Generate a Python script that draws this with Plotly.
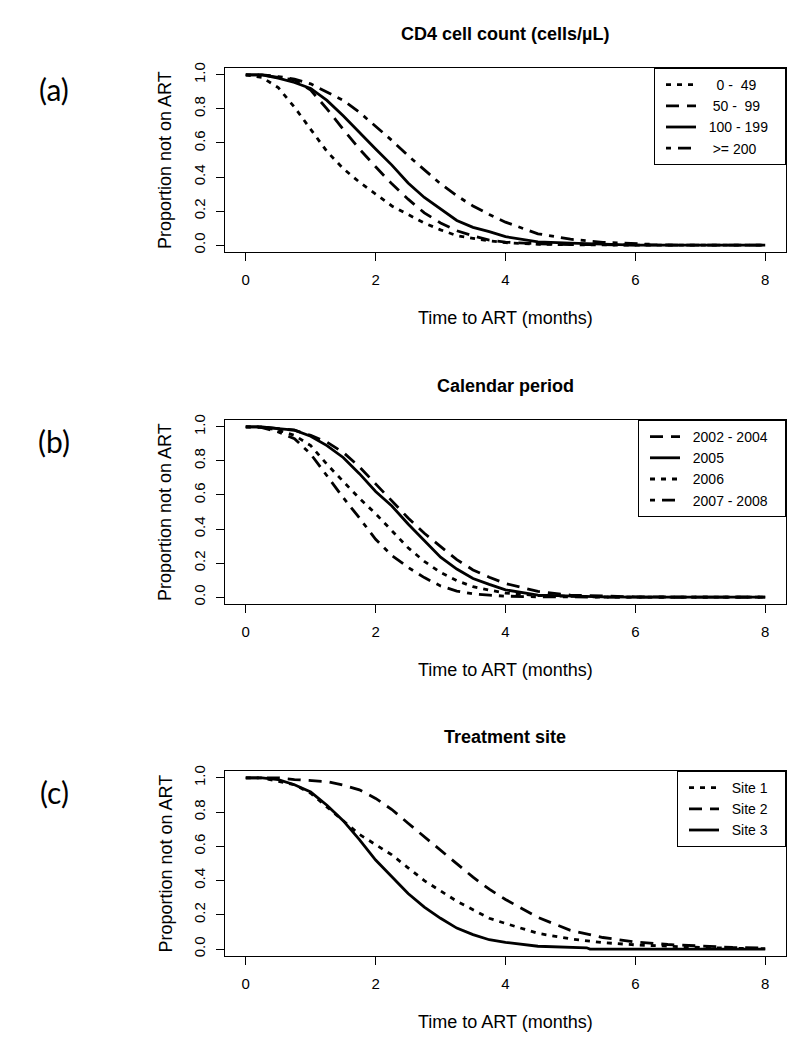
import plotly.graph_objects as go

# ---------------- data ----------------
# Panel (a): CD4 cell count (cells/µL)
months_a = [0, 0.25, 0.5, 0.75, 1.0, 1.25, 1.5, 1.75, 2.0, 2.25, 2.5, 2.75, 3.0,
            3.25, 3.5, 3.75, 4.0, 4.5, 5.0, 5.5, 6.0, 7.0, 8.0]
cd4_0_49 = [1.0, 0.985, 0.925, 0.81, 0.68, 0.55, 0.45, 0.37, 0.30, 0.23, 0.18, 0.13, 0.09,
            0.056, 0.04, 0.025, 0.015, 0.005, 0.003, 0.0, 0.0, 0.0, 0.0]
cd4_50_99 = [1.0, 1.0, 0.985, 0.97, 0.91, 0.80, 0.68, 0.565, 0.46, 0.36, 0.27, 0.19, 0.13,
             0.085, 0.055, 0.03, 0.018, 0.008, 0.004, 0.002, 0.0, 0.0, 0.0]
cd4_100_199 = [1.0, 1.0, 0.98, 0.955, 0.92, 0.85, 0.76, 0.66, 0.565, 0.47, 0.365, 0.28, 0.21,
               0.145, 0.105, 0.08, 0.05, 0.02, 0.012, 0.005, 0.0, 0.0, 0.0]
months_a_200 = [0, 0.25, 0.5, 0.75, 1.0, 1.25, 1.5, 1.75, 2.0, 2.25, 2.5, 2.75, 3.0,
                3.25, 3.5, 3.75, 4.0, 4.5, 5.0, 5.5, 6.0, 6.25]
cd4_200 = [1.0, 1.0, 0.99, 0.975, 0.947, 0.90, 0.85, 0.78, 0.70, 0.615, 0.525, 0.44, 0.36,
           0.29, 0.23, 0.18, 0.135, 0.067, 0.035, 0.017, 0.008, 0.005]
labels_a = ["0 -  49", "50 -  99", "100 - 199", ">= 200"]
label_pad_a = [4, 3, 2, 3]  # leading spaces used in the legend text

# Panel (b): Calendar period
months_b = [0, 0.25, 0.5, 0.75, 1.0, 1.25, 1.5, 1.75, 2.0, 2.25, 2.5, 2.75, 3.0,
            3.25, 3.5, 3.75, 4.0, 4.5, 5.0, 5.5, 6.0, 7.0, 8.0]
per_2002_2004 = [1.0, 1.0, 0.99, 0.98, 0.95, 0.91, 0.85, 0.765, 0.665, 0.565, 0.465, 0.375, 0.295,
                 0.22, 0.16, 0.117, 0.08, 0.034, 0.012, 0.005, 0.002, 0.0, 0.0]
per_2005 = [1.0, 1.0, 0.99, 0.98, 0.945, 0.89, 0.82, 0.725, 0.62, 0.535, 0.43, 0.33, 0.235,
            0.165, 0.11, 0.075, 0.043, 0.012, 0.005, 0.002, 0.0, 0.0, 0.0]
per_2006 = [1.0, 1.0, 0.98, 0.95, 0.89, 0.78, 0.68, 0.58, 0.49, 0.39, 0.29, 0.21, 0.145,
            0.097, 0.062, 0.042, 0.024, 0.01, 0.004, 0.001, 0.0, 0.0, 0.0]
per_2007_2008 = [1.0, 0.995, 0.97, 0.93, 0.84, 0.71, 0.585, 0.465, 0.34, 0.245, 0.175, 0.115, 0.066,
                 0.036, 0.02, 0.012, 0.006, 0.002, 0.0, 0.0, 0.0, 0.0, 0.0]
labels_b = ["2002 - 2004", "2005", "2006", "2007 - 2008"]
label_pad_b = [2, 2, 2, 2]

# Panel (c): Treatment site
months_c = [0, 0.25, 0.5, 0.75, 1.0, 1.25, 1.5, 1.75, 2.0, 2.25, 2.5, 2.75, 3.0,
            3.25, 3.5, 3.75, 4.0, 4.5, 5.0, 5.5, 6.0, 6.5, 7.0, 7.5, 8.0]
site_1 = [1.0, 1.0, 0.98, 0.96, 0.91, 0.83, 0.75, 0.67, 0.61, 0.55, 0.475, 0.40, 0.34,
          0.28, 0.23, 0.18, 0.15, 0.092, 0.06, 0.038, 0.025, 0.016, 0.01, 0.005, 0.003]
site_2 = [1.0, 1.0, 1.0, 0.99, 0.986, 0.978, 0.958, 0.93, 0.88, 0.815, 0.735, 0.655, 0.575,
          0.50, 0.42, 0.35, 0.29, 0.185, 0.11, 0.068, 0.042, 0.027, 0.018, 0.01, 0.006]
months_c3 = [0, 0.25, 0.5, 0.75, 1.0, 1.25, 1.5, 1.75, 2.0, 2.25, 2.5, 2.75, 3.0,
             3.25, 3.5, 3.75, 4.0, 4.5, 5.0, 5.25, 5.3, 6.0, 7.0, 8.0]
site_3 = [1.0, 1.0, 0.99, 0.96, 0.917, 0.84, 0.75, 0.64, 0.52, 0.425, 0.325, 0.245, 0.18,
          0.123, 0.085, 0.055, 0.04, 0.017, 0.01, 0.008, 0.0, 0.0, 0.0, 0.0]
labels_c = ["Site 1", "Site 2", "Site 3"]
label_pad_c = [2, 2, 2]

panel_titles = ["CD4 cell count (cells/\u00b5L)", "Calendar period", "Treatment site"]
panel_tags = ["(a)", "(b)", "(c)"]
x_ticks = [0, 2, 4, 6, 8]
y_ticks = [0.0, 0.2, 0.4, 0.6, 0.8, 1.0]
y_ticklabels = ["0.0", "0.2", "0.4", "0.6", "0.8", "1.0"]
x_title = "Time to ART (months)"
y_title = "Proportion not on ART"

# ---------------- styling ----------------
W, H = 800, 1038
FONT = "Liberation Sans, Arial, sans-serif"
DOT = "5px,6px"
DASH = "13px,8px"
DOTDASH = "5px,7px,13px,7px"
SOLID = "solid"
LW = 2.8
NB = "\u00a0"

plot_left, plot_right = 217, 778
boxes = [(60, 244), (412, 596), (763, 948)]  # (top, bottom) in px


def px_x(x):
    return x / W


def px_y(y):
    return 1 - y / H


def leg_text(label, pad):
    return NB * pad + label.replace("  ", NB + NB) + NB * 3


panels = [
    [(months_a, cd4_0_49, leg_text(labels_a[0], label_pad_a[0]), DOT),
     (months_a, cd4_50_99, leg_text(labels_a[1], label_pad_a[1]), DASH),
     (months_a, cd4_100_199, leg_text(labels_a[2], label_pad_a[2]), SOLID),
     (months_a_200, cd4_200, leg_text(labels_a[3], label_pad_a[3]), DOTDASH)],
    [(months_b, per_2002_2004, leg_text(labels_b[0], label_pad_b[0]), DASH),
     (months_b, per_2005, leg_text(labels_b[1], label_pad_b[1]), SOLID),
     (months_b, per_2006, leg_text(labels_b[2], label_pad_b[2]), DOT),
     (months_b, per_2007_2008, leg_text(labels_b[3], label_pad_b[3]), DOTDASH)],
    [(months_c, site_1, leg_text(labels_c[0], label_pad_c[0]), DOT),
     (months_c, site_2, leg_text(labels_c[1], label_pad_c[1]), DASH),
     (months_c3, site_3, leg_text(labels_c[2], label_pad_c[2]), SOLID)],
]

fig = go.Figure()
layout = dict(
    width=W, height=H,
    margin=dict(l=0, r=0, t=0, b=0, autoexpand=False),
    paper_bgcolor="white", plot_bgcolor="white",
    font=dict(family=FONT, color="black"),
    annotations=[],
)

for i, series in enumerate(panels):
    n = "" if i == 0 else str(i + 1)
    leg = "legend" + n
    for (xs, ys, name, dash) in series:
        fig.add_trace(go.Scatter(
            x=xs, y=ys, name=name, mode="lines",
            line=dict(color="black", width=LW, dash=dash),
            xaxis="x" + n, yaxis="y" + n, legend=leg,
        ))
    top, bot = boxes[i]
    layout["xaxis" + n] = dict(
        domain=[px_x(plot_left), px_x(plot_right)], anchor="y" + n,
        range=[-0.32, 8.32], tickvals=x_ticks,
        ticks="outside", ticklen=8, tickwidth=1, tickcolor="black",
        showline=True, linecolor="black", linewidth=1, mirror=True,
        showgrid=False, zeroline=False,
        tickfont=dict(family=FONT, size=15, color="black"),
        ticklabelstandoff=6,
    )
    layout["yaxis" + n] = dict(
        domain=[px_y(bot), px_y(top)], anchor="x" + n,
        range=[-0.04, 1.04], tickvals=y_ticks, ticktext=y_ticklabels,
        tickangle=-90,
        ticks="outside", ticklen=8, tickwidth=1, tickcolor="black",
        showline=True, linecolor="black", linewidth=1, mirror=True,
        showgrid=False, zeroline=False,
        tickfont=dict(family=FONT, size=15, color="black"),
        ticklabelstandoff=5,
    )
    layout[leg] = dict(
        x=px_x(plot_right), xanchor="right", y=px_y(top), yanchor="top",
        bordercolor="black", borderwidth=1, bgcolor="white",
        font=dict(family=FONT, size=14, color="black"),
        indentation=6, tracegroupgap=0,
    )
    mid_x = (plot_left + plot_right) / 2
    layout["annotations"] += [
        dict(text="<b>" + panel_titles[i] + "</b>", x=px_x(mid_x), y=px_y(top - 34),
             xref="paper", yref="paper", xanchor="center", yanchor="middle",
             showarrow=False, font=dict(family=FONT, size=18, color="black")),
        dict(text=x_title, x=px_x(mid_x), y=px_y(bot + 66),
             xref="paper", yref="paper", xanchor="center", yanchor="middle",
             showarrow=False, font=dict(family=FONT, size=18, color="black")),
        dict(text=y_title, x=px_x(157), y=px_y((top + bot) / 2), textangle=-90,
             xref="paper", yref="paper", xanchor="center", yanchor="middle",
             showarrow=False, font=dict(family=FONT, size=18, color="black")),
        dict(text=panel_tags[i], x=px_x(46), y=px_y(top + 21),
             xref="paper", yref="paper", xanchor="center", yanchor="middle",
             showarrow=False, font=dict(family="Lato, Open Sans, sans-serif", size=30, color="black")),
    ]

fig.update_layout(**layout)
fig.write_html("out.html")
